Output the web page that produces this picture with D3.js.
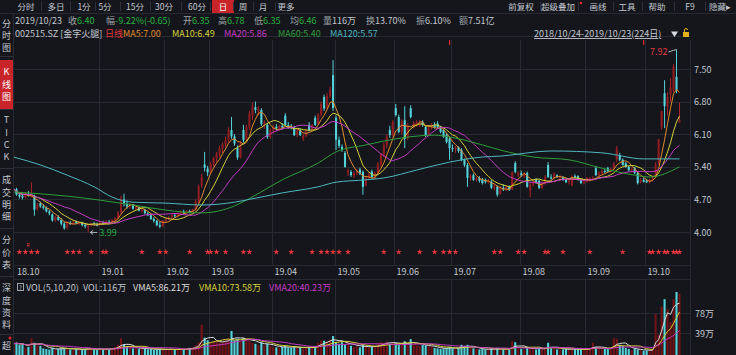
<!DOCTYPE html>
<html>
<head>
<meta charset="utf-8">
<script src="https://cdn.jsdelivr.net/npm/d3@7"></script>
<style>
html, body { margin: 0; padding: 0; background: #14161b; overflow: hidden; }
svg { display: block; font-family: "Noto Sans CJK SC", "Noto Sans", sans-serif; }
</style>
</head>
<body>
<svg></svg>
<script>
const opens = [
4.90,4.92,4.80,4.78,4.74,4.82,4.76,4.78,4.50,4.62, 4.55,4.52,4.44,4.38,4.25,4.32,4.26,4.18,4.10,4.20,
4.18,4.22,4.19,4.20,4.15,4.10,4.14,4.18,4.16,4.15, 4.20,4.18,4.22,4.20,4.26,4.30,4.42,4.70,4.60,4.55,
4.58,4.50,4.53,4.46,4.48,4.40,4.36,4.28,4.24,4.15, 4.12,4.24,4.28,4.32,4.36,4.34,4.40,4.44,4.42,4.45,
4.43,4.48,4.66,5.00,5.45,5.36,5.28,5.46,5.58,5.68, 5.80,5.88,5.97,6.19,6.05,5.80,5.60,6.19,5.98,6.25,
6.50,6.68,6.60,6.62,6.30,6.30,6.04,6.18,6.26,6.22, 6.28,6.50,6.30,6.27,6.25,6.08,6.19,6.00,6.06,6.30,
6.20,6.45,6.32,6.52,6.90,6.66,6.92,7.37,6.45,5.98, 5.83,5.70,5.28,5.29,5.20,5.27,5.34,5.29,5.00,5.16,
5.30,5.18,5.27,5.45,5.66,5.86,6.19,6.08,6.66,6.47, 6.15,6.40,6.02,6.66,6.25,6.30,6.28,6.36,6.25,6.10,
6.26,6.30,6.33,6.25,6.19,6.08,6.00,5.80,5.78,5.82, 5.76,5.55,5.44,5.16,5.22,5.12,5.16,5.12,5.12,5.08,
5.08,4.95,4.97,4.82,4.95,4.92,4.97,4.92,5.48,5.22, 5.26,5.20,5.27,4.90,5.02,5.12,5.10,4.95,5.05,5.44,
5.18,5.15,5.22,5.15,5.18,5.12,5.07,5.00,5.20,5.20, 5.12,5.05,5.08,5.10,5.12,5.37,5.22,5.26,5.31,5.37,
5.30,5.38,5.55,5.65,5.55,5.48,5.40,5.33,5.37,5.27, 5.08,5.12,5.10,5.07,5.14,5.18,5.50,6.25,6.98,6.70,
6.95,7.05,7.33,6.35
];
const highs = [
4.98,4.95,4.86,4.83,4.85,4.88,5.07,4.80,4.62,4.65, 4.60,4.55,4.48,4.40,4.35,4.36,4.30,4.22,4.22,4.24,
4.26,4.25,4.23,4.22,4.18,4.16,4.20,4.22,4.20,4.22, 4.24,4.25,4.26,4.28,4.32,4.45,4.78,4.82,4.68,4.62,
4.60,4.56,4.55,4.52,4.50,4.44,4.40,4.32,4.26,4.22, 4.26,4.30,4.34,4.38,4.40,4.42,4.46,4.48,4.47,4.48,
4.50,4.70,5.02,5.25,5.72,5.42,5.50,5.62,5.72,5.85, 5.92,6.05,6.25,6.47,6.10,5.86,5.95,6.30,6.30,6.60,
6.78,6.80,6.70,6.66,6.40,6.34,6.22,6.30,6.32,6.30, 6.34,6.55,6.36,6.32,6.28,6.20,6.22,6.10,6.20,6.36,
6.32,6.50,6.55,6.80,6.95,6.98,7.12,7.69,6.50,6.05, 5.88,5.74,5.36,5.33,5.30,5.36,5.38,5.32,5.20,5.28,
5.34,5.30,5.50,5.70,5.92,6.10,6.28,6.40,6.75,6.52, 6.42,6.70,6.35,6.72,6.38,6.40,6.40,6.40,6.28,6.30,
6.34,6.36,6.38,6.28,6.22,6.12,6.05,5.88,5.85,5.84, 5.80,5.58,5.48,5.24,5.26,5.18,5.20,5.16,5.15,5.14,
5.12,5.02,5.00,4.98,5.02,5.00,5.00,5.30,5.52,5.30, 5.32,5.28,5.30,5.05,5.10,5.16,5.12,5.08,5.22,5.50,
5.24,5.28,5.24,5.22,5.20,5.15,5.12,5.22,5.24,5.22, 5.15,5.12,5.18,5.18,5.20,5.42,5.30,5.34,5.36,5.40,
5.38,5.50,5.85,5.70,5.58,5.50,5.42,5.38,5.40,5.30, 5.16,5.16,5.14,5.14,5.20,5.50,6.00,6.60,7.26,7.00,
7.30,7.60,7.92,6.78
];
const lows = [
4.85,4.78,4.72,4.70,4.72,4.76,4.74,4.35,4.46,4.52, 4.48,4.42,4.36,4.22,4.22,4.24,4.14,4.05,4.06,4.15,
4.16,4.17,4.15,4.12,4.08,3.99,4.12,4.14,4.12,4.14, 4.16,4.17,4.18,4.18,4.22,4.28,4.40,4.55,4.50,4.50,
4.48,4.46,4.44,4.42,4.38,4.34,4.26,4.20,4.12,4.08, 4.10,4.20,4.25,4.28,4.30,4.32,4.36,4.38,4.38,4.40,
4.42,4.46,4.62,4.95,5.30,5.20,5.25,5.40,5.50,5.60, 5.70,5.82,5.92,6.00,5.85,5.55,5.58,5.92,5.95,6.20,
6.40,6.55,6.50,6.28,6.22,6.00,6.00,6.12,6.18,6.18, 6.20,6.28,6.22,6.20,6.06,6.04,6.06,5.95,6.04,6.16,
6.18,6.28,6.30,6.48,6.60,6.62,6.88,6.60,5.76,5.80, 5.72,5.38,5.20,5.18,5.16,5.22,5.22,4.80,4.98,5.12,
5.15,5.12,5.24,5.40,5.60,5.80,6.02,6.05,6.48,6.12, 6.10,5.80,5.98,6.44,6.22,6.26,6.26,6.26,6.04,6.08,
6.20,6.22,6.22,6.12,6.02,5.90,5.55,5.72,5.70,5.70, 5.52,5.40,4.97,5.10,5.10,5.08,5.06,5.02,5.04,5.04,
4.92,4.90,4.76,4.80,4.88,4.88,4.88,4.90,5.26,5.18, 5.18,5.16,4.95,4.75,4.98,5.03,4.92,4.92,5.02,5.16,
5.12,5.12,5.16,5.12,5.10,5.05,5.02,4.98,5.14,5.10, 5.03,5.02,5.06,5.08,5.10,5.20,5.20,5.24,5.26,5.28,
5.28,5.34,5.50,5.52,5.42,5.38,5.30,5.28,5.24,5.02, 5.04,5.06,5.05,5.04,5.08,5.15,5.45,6.20,6.23,6.50,
6.80,7.00,6.98,6.35
];
const closes = [
4.93,4.80,4.76,4.74,4.82,4.78,4.80,4.48,4.58,4.55, 4.52,4.44,4.40,4.25,4.32,4.26,4.18,4.08,4.20,4.18,
4.22,4.19,4.21,4.15,4.12,4.14,4.18,4.16,4.15,4.20, 4.18,4.23,4.20,4.26,4.30,4.42,4.72,4.62,4.55,4.58,
4.50,4.53,4.46,4.48,4.40,4.36,4.28,4.24,4.15,4.12, 4.24,4.28,4.32,4.36,4.34,4.40,4.44,4.42,4.45,4.43,
4.48,4.66,4.98,5.18,5.38,5.28,5.46,5.58,5.68,5.80, 5.88,5.97,6.20,6.05,5.90,5.60,5.90,5.97,6.25,6.55,
6.70,6.62,6.64,6.32,6.35,6.04,6.18,6.26,6.22,6.28, 6.24,6.30,6.27,6.25,6.08,6.18,6.08,6.06,6.18,6.19,
6.30,6.30,6.52,6.75,6.65,6.92,7.05,6.66,5.98,5.85, 5.76,5.40,5.32,5.22,5.27,5.30,5.25,4.97,5.16,5.24,
5.18,5.27,5.45,5.66,5.86,6.05,6.08,6.36,6.51,6.15, 6.38,6.00,6.30,6.47,6.34,6.36,6.35,6.30,6.08,6.26,
6.30,6.25,6.25,6.15,6.05,5.93,5.80,5.78,5.82,5.74, 5.55,5.44,5.16,5.20,5.12,5.15,5.10,5.05,5.08,5.10,
4.95,4.98,4.80,4.95,4.92,4.97,4.90,5.28,5.29,5.28, 5.22,5.25,4.97,5.02,5.06,5.05,4.95,5.05,5.18,5.18,
5.15,5.26,5.18,5.18,5.12,5.07,5.10,5.20,5.18,5.12, 5.05,5.08,5.16,5.15,5.16,5.22,5.28,5.31,5.30,5.30,
5.35,5.46,5.78,5.55,5.44,5.40,5.33,5.35,5.27,5.05, 5.12,5.08,5.07,5.12,5.15,5.45,6.00,6.60,6.70,6.90,
7.10,7.55,7.05,6.40
];
// volume in 万
const volumes = [
18,20,16,17,10,12,29,20,15,14, 9,8,7,10,7,8,9,10,9,7,
6,8,7,6,8,10,9,7,6,8, 7,9,7,9,12,16,29,16,12,10,
9,10,8,9,8,7,8,6,7,8, 7,6,7,8,6,7,8,7,9,10,
11,15,21,55,30,25,20,22,24,20, 22,25,28,43,25,28,22,29,29,24,
20,18,16,21,16,18,14,12,11,10, 12,14,11,10,13,10,11,9,10,12,
11,13,20,25,24,22,26,33,21,18, 21,16,21,14,12,13,11,16,12,10,
12,14,18,21,20,22,18,21,19,17, 18,23,16,27,18,15,14,16,15,13,
12,10,9,8,9,10,12,9,8,10, 16,14,16,10,9,8,7,8,7,6,
9,7,10,8,7,8,6,23,21,10, 8,7,12,10,8,7,9,8,10,20,
9,10,7,8,7,8,6,9,7,8, 7,6,9,10,20,12,8,7,8,9,
10,29,28,16,14,10,8,6,9,7, 5,4,5,6,8,76,35,90,105,86,
60,105,119,116
];
// MA60 / MA120 at sample candles
const ma60Idx = [0,18,40,51,63,74,79,90,102,108,118,130,141,146,157,163,174,186,197,208,213,223];
const ma60Val = [4.86,4.77,4.58,4.47,4.41,4.56,4.72,5.12,5.48,5.72,5.87,6.02,6.08,6.04,5.87,5.76,5.61,5.55,5.37,5.22,5.18,5.40];
const ma120Idx = [0,9,18,27,33,40,51,63,74,79,90,102,108,118,124,135,146,157,163,180,197,211,223];
const ma120Val = [5.61,5.44,5.22,4.97,4.75,4.64,4.62,4.58,4.64,4.70,4.84,4.97,5.07,5.12,5.16,5.33,5.50,5.61,5.63,5.74,5.70,5.57,5.57];

const monthLabels = ['18.10','19.01','19.02','19.03','19.04','19.05','19.06','19.07','19.08','19.09','19.10'];
const monthIndex = [0,29,51,66,87,108,128,147,170,192,212];
const priceTicks = [4.00,4.70,5.40,6.10,6.80,7.50];
const volTicks = [39,78];
const starIdx = [2,4,6,8,18,20,22,26,30,31,43,49,51,59,65,66,68,71,77,79,88,93,100,103,105,107,109,112,124,129,136,141,144,146,148,161,163,169,171,178,179,184,193,204,213,214,216,218,219,221,222,223];
const flagIdx = [146,211];

const tabs = ['分时','多日','1分','5分','15分','30分','60分','日','周','月','更多'];
const tabX = [26,56,84,105,135,164,197,223,243,263,286];
const tools = ['前复权','超级叠加','画线','工具','帮助','F9','隐藏▸'];
const toolX = [521,558,598,627,657,690,720];
const infoLabels = ['收','幅','开','高','低','均','量','换','振','额'];
const infoValues = ['6.40','-9.22%(-0.65)','6.35','6.78','6.35','6.46','116万','13.70%','6.10%','7.51亿'];
const infoX = [68,106,183,218,254,290,323,366,416,459];
const maNames = ['MA5:7.00','MA10:6.49','MA20:5.86','MA60:5.40','MA120:5.57'];
const maX = [123,172,224,278,330];
const volNames = ['VOL(5,10,20)','VOL:116万','VMA5:86.21万','VMA10:73.58万','VMA20:40.23万'];
const volNameX = [26,83,133,199,269];
const sideMenus = ['分时图','K线图','TICK','成交明细','分价表','深度资料','超'];

// ---- style ----
const bg = '#14161b';
const gridColor = '#272a32';
const textColor = '#c3c7cf';
const upColor = '#b0242a';
const upFill = '#8e1c21';
const downColor = '#54d2d8';
const green = '#27b23f';
const maColors = ['#e08a2e','#d6d13a','#c63ac6','#2f9d3a','#4fb6c0'];
const vmaColors = ['#dcdcdc','#d6d13a','#c63ac6'];

const width = 736, height = 355;
const plotLeft = 13, plotRight = 690, plotTop = 40, plotBottom = 265;

const svg = d3.select('svg').attr('width', width).attr('height', height);
svg.append('rect').attr('width', width).attr('height', height).attr('fill', bg);

const n = closes.length;
const x = d3.scaleBand().domain(d3.range(n)).range([12, 681]).paddingInner(0.3).paddingOuter(0.15);
const cx = i => x(i) + x.bandwidth() / 2;
const y = d3.scaleLinear().domain([4.00, 7.50]).range([232, 69]);
const yv = d3.scaleLinear().domain([0, 78]).range([353, 313]);

function txt(g, px, py, s, color, size, anchor) {
	return g.append('text').attr('x', px).attr('y', py).text(s)
	.attr('fill', color).attr('font-size', size || 9).attr('text-anchor', anchor || 'start');
}

// ---- frame and grid ----
const grid = svg.append('g').attr('stroke', gridColor).attr('stroke-width', 1);
d3.range(-1, 7).forEach(k => {
	const yy = Math.round(y(4.00 + k * 0.70)) + 0.5;
	grid.append('line').attr('x1', plotLeft).attr('x2', plotRight).attr('y1', yy).attr('y2', yy);
});
[279.5, 313.5, 333.5].forEach(yy => {
	grid.append('line').attr('x1', plotLeft).attr('x2', plotRight).attr('y1', yy).attr('y2', yy);
});
grid.append('line').attr('x1', 0).attr('x2', width).attr('y1', 13.5).attr('y2', 13.5);
monthIndex.forEach(i => {
	if (i === 0) return;
	const xx = Math.floor(x(i)) + 0.5;
	grid.append('line').attr('x1', xx).attr('x2', xx).attr('y1', plotTop).attr('y2', plotBottom);
	grid.append('line').attr('x1', xx).attr('x2', xx).attr('y1', 280).attr('y2', height);
});
grid.append('line').attr('x1', plotLeft + 0.5).attr('x2', plotLeft + 0.5).attr('y1', 14).attr('y2', height);
grid.append('line').attr('x1', plotRight + 0.5).attr('x2', plotRight + 0.5).attr('y1', plotTop).attr('y2', height);

// ---- top tab bar ----
const bar = svg.append('g');
bar.append('rect').attr('x', 212).attr('y', 0).attr('width', 22).attr('height', 13).attr('fill', '#c9242a');
tabs.forEach((t, i) => {
	txt(bar, tabX[i], 9.5, t, t === '日' ? '#ffffff' : textColor, 8.5, 'middle');
	if (i < tabs.length - 1) {
		const sx = Math.round((tabX[i] + tabX[i + 1]) / 2) + 0.5;
		bar.append('line').attr('x1', sx).attr('x2', sx).attr('y1', 2).attr('y2', 11).attr('stroke', '#2e3139');
	}
});
tools.forEach((t, i) => {
	txt(bar, toolX[i], 9.5, t, textColor, 8.5, 'middle');
	if (i > 0) {
		const sx = Math.round((toolX[i] + toolX[i - 1]) / 2) + 0.5;
		bar.append('line').attr('x1', sx).attr('x2', sx).attr('y1', 2).attr('y2', 11).attr('stroke', '#2e3139');
	}
});
bar.append('circle').attr('cx', 581).attr('cy', 3).attr('r', 1.3).attr('fill', '#e0282e');

// ---- info rows ----
const info = svg.append('g');
txt(info, 15, 23.5, '2019/10/23', textColor);
infoLabels.forEach((l, i) => {
	const t = txt(info, infoX[i], 23.5, '', '#9da1a8');
	t.append('tspan').text(l);
	t.append('tspan').text(infoValues[i]).attr('fill', i < 6 ? green : textColor);
});
txt(info, 15, 37, '002515.SZ [金字火腿]', textColor);
txt(info, 105, 37, '日线', '#e0363a');
maNames.forEach((m, i) => txt(info, maX[i], 37, m, maColors[i]));
txt(info, 534, 37, '2018/10/24-2019/10/23(224日)', textColor).attr('text-decoration', 'underline');
info.append('path').attr('d', 'M671,31.5 L678,31.5 L674.5,37 Z').attr('fill', '#d8dbe0');
info.append('rect').attr('x', 683).attr('y', 32).attr('width', 6).attr('height', 5).attr('fill', '#e0b020');
info.append('path').attr('d', 'M684.5,32 v-2 a1.5,1.5 0 0 1 3,0').attr('fill', 'none').attr('stroke', '#e0b020');

// ---- left side menu (one text per menu, one tspan per character) ----
const side = svg.append('g');
side.append('rect').attr('x', 0).attr('y', 60).attr('width', 13).attr('height', 49).attr('fill', '#c9242a');
const sideY = [[24, 36, 48], [72, 84.5, 97], [120, 132.5, 145, 157], [180, 192.5, 205, 217],
	[240, 252.5, 265], [288, 300.5, 313, 325], [346]];
sideMenus.forEach((s, m) => {
	const t = side.append('text').attr('font-size', 9).attr('text-anchor', 'middle')
	.attr('fill', m === 1 ? '#ffffff' : textColor);
	Array.from(s).forEach((ch, k) => t.append('tspan').attr('x', 6.5).attr('y', sideY[m][k] + 3.3).text(ch));
});
[56.5, 109.5, 168.5, 228.5, 276.5, 334.5].forEach(yy => {
	side.append('line').attr('x1', 0).attr('x2', 13).attr('y1', yy).attr('y2', yy).attr('stroke', '#2e3139');
});
side.append('circle').attr('cx', 10).attr('cy', 338).attr('r', 1.5).attr('fill', '#e0282e');

// ---- axes labels ----
const axes = svg.append('g');
priceTicks.forEach(p => txt(axes, 694, y(p) + 3.5, p.toFixed(2), textColor));
volTicks.forEach(v => txt(axes, 695, yv(v) + 3.5, v + '万', textColor));
monthLabels.forEach((m, k) => txt(axes, k === 0 ? 17 : Math.floor(x(monthIndex[k])) + 2.5, 275, m, textColor));

// ---- candles ----
svg.append('clipPath').attr('id', 'plot').append('rect')
.attr('x', plotLeft + 1).attr('y', plotTop).attr('width', plotRight - plotLeft - 1).attr('height', plotBottom - plotTop);
const plot = svg.append('g').attr('clip-path', 'url(#plot)');
const isUp = i => closes[i] >= opens[i];

const candles = plot.selectAll('g.candle').data(d3.range(n)).enter().append('g').classed('candle', true);
candles.append('line')
.attr('x1', i => cx(i)).attr('x2', i => cx(i))
.attr('y1', i => y(highs[i])).attr('y2', i => y(lows[i]))
.attr('stroke', i => isUp(i) ? upColor : downColor).attr('stroke-width', 1);
candles.append('rect')
.attr('x', i => x(i)).attr('width', x.bandwidth())
.attr('y', i => y(Math.max(opens[i], closes[i])))
.attr('height', i => Math.max(1, Math.abs(y(opens[i]) - y(closes[i]))))
.attr('fill', i => isUp(i) ? upFill : downColor);

// ---- moving averages ----
function movingAvg(arr, p) {
	return arr.map((v, i) => d3.mean(arr.slice(Math.max(0, i - p + 1), i + 1)));
}
const line = d3.line().x((d, i) => cx(i)).y(d => y(d));
[5, 10, 20].forEach((p, k) => {
	plot.append('path').datum(movingAvg(closes, p)).attr('d', line)
	.attr('fill', 'none').attr('stroke', maColors[k]).attr('stroke-width', 1);
});
const sampled = d3.line().x(d => cx(d[0])).y(d => y(d[1])).curve(d3.curveMonotoneX);
plot.append('path').datum(d3.zip(ma60Idx, ma60Val)).attr('d', sampled)
.attr('fill', 'none').attr('stroke', maColors[3]).attr('stroke-width', 1);
plot.append('path').datum(d3.zip(ma120Idx, ma120Val)).attr('d', sampled)
.attr('fill', 'none').attr('stroke', maColors[4]).attr('stroke-width', 1);

// ---- stars and markers ----
plot.selectAll('path.star').data(starIdx).enter().append('path').classed('star', true)
.attr('d', d3.symbol(d3.symbolStar, 11))
.attr('transform', i => `translate(${cx(i)},252)`).attr('fill', '#e8363c');
txt(plot, 28, 247, 'R', '#e8363c', 5, 'middle');
flagIdx.forEach(i => {
	plot.append('path').attr('d', `M${cx(i)},45 V39 h-2.5`).attr('fill', 'none')
	.attr('stroke', '#e02a2e').attr('stroke-width', 1.2);
});

// high / low annotations
const hiIdx = d3.maxIndex(highs);
const loIdx = d3.minIndex(lows);
plot.append('line').attr('x1', cx(hiIdx) - 8).attr('y1', y(highs[hiIdx]) + 2.5)
.attr('x2', cx(hiIdx)).attr('y2', y(highs[hiIdx])).attr('stroke', '#aab0b8');
txt(plot, cx(hiIdx) - 9, y(highs[hiIdx]) + 6, highs[hiIdx].toFixed(2), '#e03a3e', 9, 'end');
plot.append('path').attr('d', `M${cx(loIdx) + 9},${y(lows[loIdx])} H${cx(loIdx) + 2} m3,-2 l-3,2 l3,2`)
.attr('fill', 'none').attr('stroke', '#aab0b8');
txt(plot, cx(loIdx) + 11, y(lows[loIdx]) + 3.5, lows[loIdx].toFixed(2), green, 9);

// ---- volume panel ----
const volHead = svg.append('g');
volHead.append('rect').attr('x', 17.5).attr('y', 283.5).attr('width', 6).attr('height', 7)
.attr('fill', 'none').attr('stroke', '#9da1a8');
txt(volHead, 20.5, 289.5, '?', textColor, 6, 'middle');
const volNameColors = [textColor, textColor, vmaColors[0], vmaColors[1], vmaColors[2]];
volNames.forEach((s, i) => txt(volHead, volNameX[i], 290.5, s, volNameColors[i]));

svg.append('clipPath').attr('id', 'volclip').append('rect')
.attr('x', plotLeft + 1).attr('y', 280).attr('width', plotRight - plotLeft - 1).attr('height', height - 280);
const vol = svg.append('g').attr('clip-path', 'url(#volclip)');
vol.selectAll('rect.vol').data(volumes).enter().append('rect').classed('vol', true)
.attr('x', (d, i) => x(i)).attr('width', x.bandwidth())
.attr('y', d => yv(d)).attr('height', d => yv(0) - yv(d) + 3)
.attr('fill', (d, i) => isUp(i) ? '#741317' : downColor);
const vline = d3.line().x((d, i) => cx(i)).y(d => yv(d));
[5, 10, 20].forEach((p, k) => {
	vol.append('path').datum(movingAvg(volumes, p)).attr('d', vline)
	.attr('fill', 'none').attr('stroke', vmaColors[k]).attr('stroke-width', 1);
});
</script>
</body>
</html>
